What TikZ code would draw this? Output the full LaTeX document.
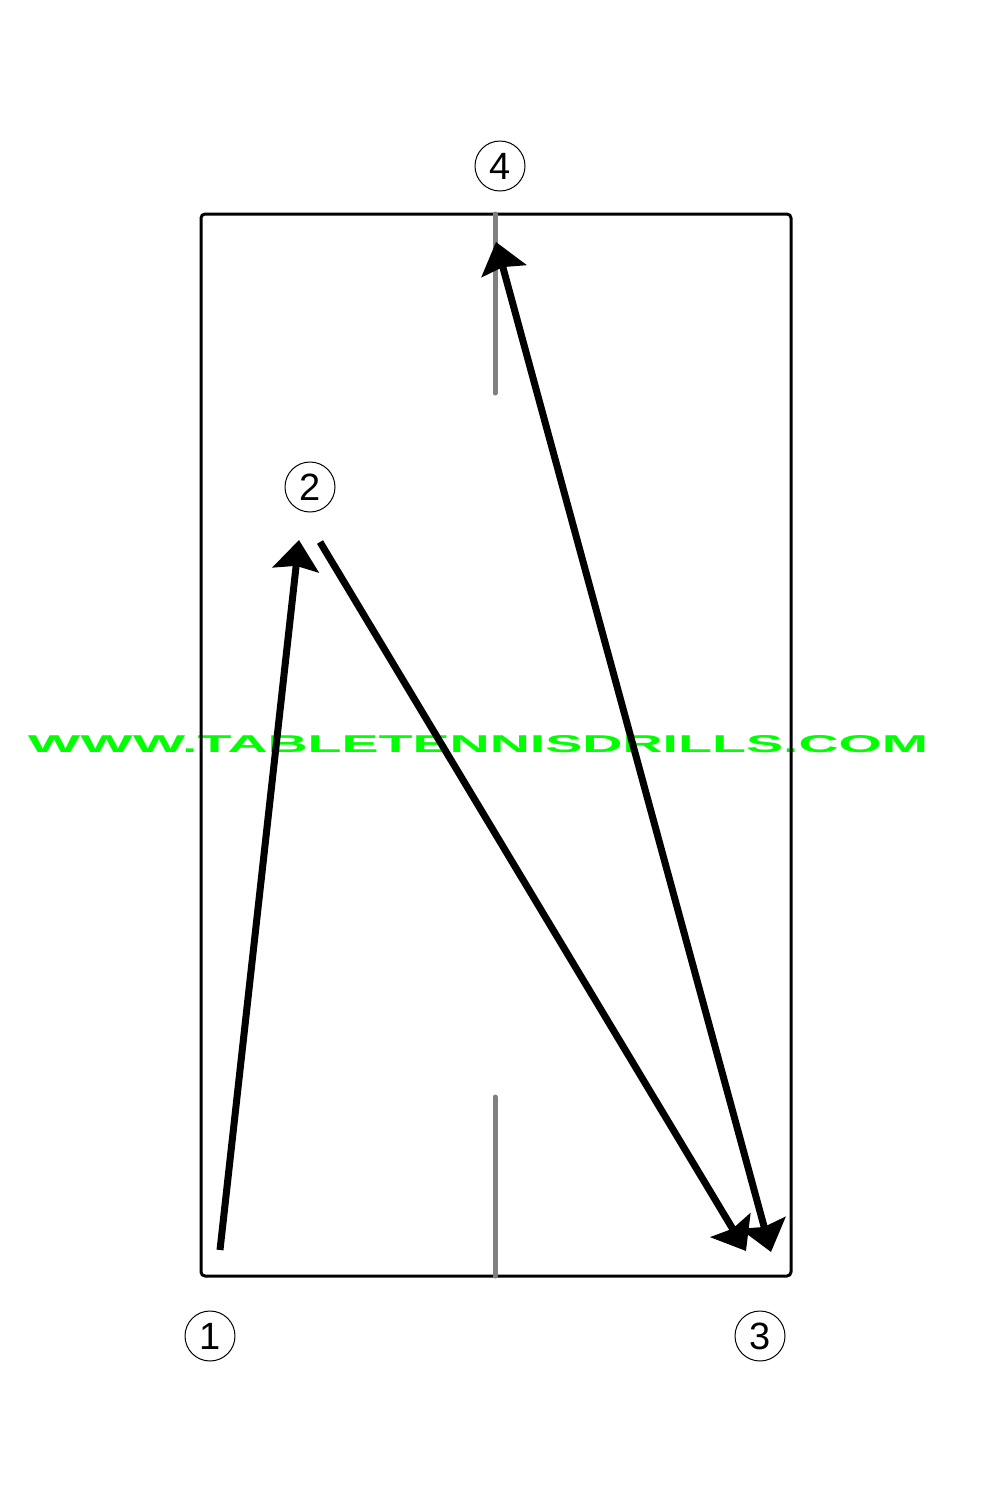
\documentclass[tikz,border=0pt]{standalone}
\usepackage{graphicx}
\usepackage{fontspec}
\setsansfont{Liberation Sans}
\usetikzlibrary{arrows.meta}

\begin{document}
\begin{tikzpicture}[x=0.5pt,y=-0.5pt,>={Stealth[length=15pt,width=23pt,inset=2pt]},
                    line join=round]

  \tikzset{shot/.style={line width=3.5pt},
           spot/.style={circle,draw,line width=0.5pt,minimum size=25pt,inner sep=0pt,
                        font=\sffamily\fontsize{19}{19}\selectfont},
           centreline/.style={draw=gray,line width=2.5pt,line cap=round}}

  \useasboundingbox (0,0) rectangle (1000,1500);

  % watermark
  \node[text=green,inner sep=0pt] (mark) at (478,744)
    {\resizebox{450pt}{8.5pt}{\sffamily\bfseries WWW.TABLETENNISDRILLS.COM}};

  % table
  \draw[line width=1.5pt,rounded corners=2pt] (201,214) rectangle (791,1276);
  \coordinate (nettop) at (495,214);
  \coordinate (netend) at (495,393);
  \coordinate (basebot) at (495,1276);
  \coordinate (baseend) at (495,1097);
  \draw[centreline] (nettop) -- (netend);
  \draw[centreline] (basebot) -- (baseend);

  % ball positions
  \node[spot] (p1) at (210,1336) {1};
  \node[spot] (p2) at (310,487)  {2};
  \node[spot] (p3) at (760,1336) {3};
  \node[spot] (p4) at (500,166)  {4};

  \coordinate (a1) at (220,1250);
  \coordinate (b1) at (299,540);
  \coordinate (a2) at (320,542);
  \coordinate (b2) at (746,1251);
  \coordinate (a3) at (771,1252);
  \coordinate (b3) at (496,242);

  \draw[shot,->] (a1) -- (b1);
  \draw[shot,->] (a2) -- (b2);
  \draw[shot,<->] (a3) -- (b3);
\end{tikzpicture}
\end{document}
